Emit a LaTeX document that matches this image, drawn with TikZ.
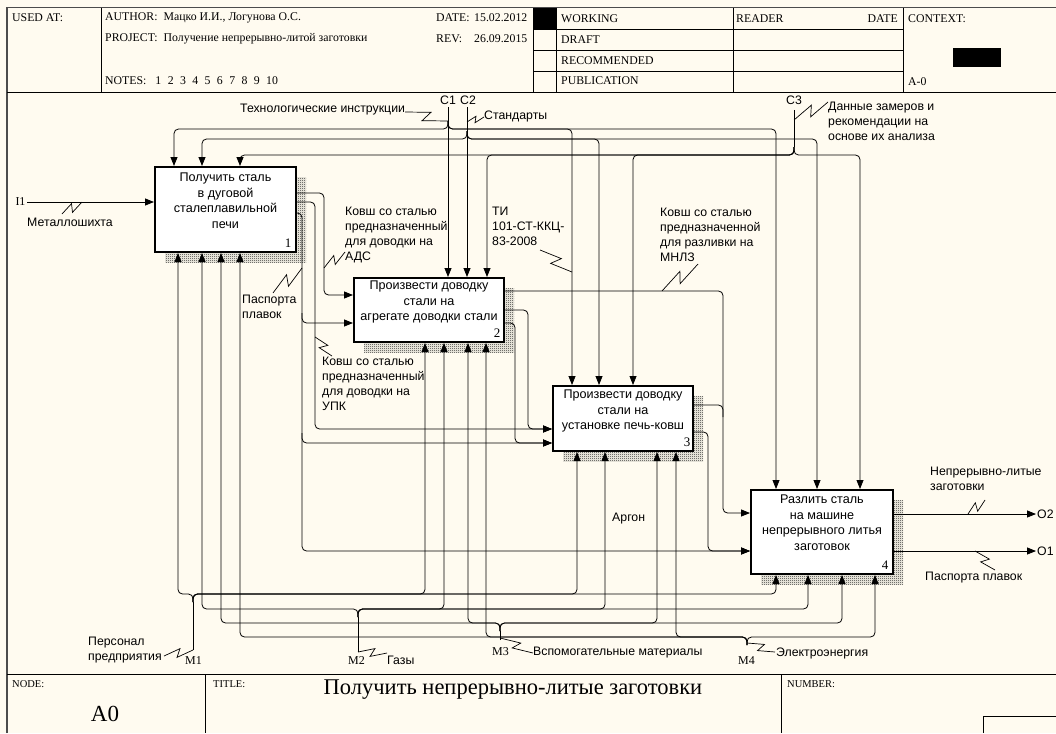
\documentclass[tikz,border=0pt]{standalone}
\usepackage{fontspec}
\setmainfont{Liberation Serif}
\newfontfamily\arfont{Liberation Sans}
\usetikzlibrary{arrows.meta,calc,patterns}
\definecolor{bgc}{RGB}{255,251,240}
\pgfdeclarepatternformonly{chk}{\pgfpointorigin}{\pgfqpoint{2pt}{2pt}}{\pgfqpoint{2pt}{2pt}}{%
  \pgfpathrectangle{\pgfpointorigin}{\pgfqpoint{1pt}{1pt}}%
  \pgfpathrectangle{\pgfqpoint{1pt}{1pt}}{\pgfqpoint{1pt}{1pt}}%
  \pgfusepath{fill}}
\newcommand\squig[3][4pt]{\draw[sqline] #2 -- ($#2!0.58!#3!#1!90:#3$) -- ($#2!0.42!#3!#1!-90:#3$) -- #3;}
\begin{document}
\begin{tikzpicture}[x=1pt,y=-1pt,
 ln/.style={line width=0.8pt,rounded corners=4.5pt},
 ar/.style={ln,-{Triangle[length=9pt,width=7pt]}},
 sqline/.style={line width=0.7pt},
 lab/.style={font=\arfont\fontsize{12.3}{15}\selectfont,inner sep=0pt,align=left},
 hd/.style={font=\fontsize{11.8}{13}\selectfont,inner sep=0pt,anchor=west},
 boxs/.style={draw,line width=1.8pt,fill=white,inner sep=0pt},
 btxt/.style={font=\arfont\fontsize{12.6}{15.5}\selectfont,align=center,inner sep=0pt,anchor=north},
 num/.style={font=\fontsize{13}{13}\selectfont,inner sep=0pt},
 ser/.style={font=\fontsize{12}{14}\selectfont,inner sep=0pt},
 shad/.style={pattern=chk,pattern color=black!85}]
\useasboundingbox (0,0) rectangle (1056,733);
\fill[bgc] (0,0) rectangle (1056,733);
% frame
\draw[line width=1.5pt,black!70] (7,733) -- (7,7.5) -- (1056,7.5);
% header
\draw[line width=0.8pt] (7,92) -- (1056,92);
\foreach \x in {101,533,556,733,903} \draw[line width=0.8pt] (\x,8) -- (\x,92);
\foreach \y in {29.5,50.5,71} \draw[line width=0.8pt] (533,\y) -- (903,\y);
\fill (533,8) rectangle (556,29.5);
\fill (953,48) rectangle (1001,67);
\node[hd] (usedat) at (12,18) {USED AT:};
\node[hd] (author) at (105,18) {AUTHOR:\hspace{6pt}Мацко И.И., Логунова О.С.};
\node[hd] (project) at (105,39) {PROJECT:\hspace{6pt}Получение непрерывно-литой заготовки};
\node[hd] (notes) at (105,81) {NOTES:\hspace{9pt}1\hspace{6.4pt}2\hspace{6.4pt}3\hspace{6.4pt}4\hspace{6.4pt}5\hspace{6.4pt}6\hspace{6.4pt}7\hspace{6.4pt}8\hspace{6.4pt}9\hspace{6.4pt}10};
\node[hd] (date) at (436,18) {DATE:};
\node[hd] (dateval) at (474,18) {15.02.2012};
\node[hd] (rev) at (436,39) {REV:};
\node[hd] (revval) at (474,39) {26.09.2015};
\node[hd] (working) at (561,19) {WORKING};
\node[hd] (draft) at (561,40) {DRAFT};
\node[hd] (recom) at (561,61) {RECOMMENDED};
\node[hd] (publ) at (561,81) {PUBLICATION};
\node[hd] (reader) at (736,19) {READER};
\node[hd,anchor=east] (rdate) at (898,19) {DATE};
\node[hd] (context) at (908,19) {CONTEXT:};
\node[hd] (ctxnode) at (908,82) {A-0};
% footer
\draw[line width=0.8pt] (7,674) -- (1056,674);
\draw[line width=0.8pt] (205,674) -- (205,733);
\draw[line width=0.8pt] (781,674) -- (781,733);
\draw[line width=0.8pt] (983,733) -- (983,716) -- (1056,716);
\node[hd,font=\fontsize{10.5}{12}\selectfont] (nodel) at (12,684) {NODE:};
\node[hd,font=\fontsize{10.5}{12}\selectfont] (titlel) at (213,684) {TITLE:};
\node[hd,font=\fontsize{10.5}{12}\selectfont] (numl) at (787,684) {NUMBER:};
\node[inner sep=0pt,font=\fontsize{22.5}{26}\selectfont] (title) at (513,690) {Получить непрерывно-литые заготовки};
\node[inner sep=0pt,font=\fontsize{23}{26}\selectfont] (a0) at (105,714) {A0};
% shadows and boxes
\fill[shad] (165,177) rectangle (306,262);
\fill[shad] (364,288) rectangle (514,352);
\fill[shad] (563,396) rectangle (703,461);
\fill[shad] (761,500) rectangle (903,584);
\node[boxs,minimum width=141pt,minimum height=85pt] (b1) at (225.5,209.5) {};
\node[boxs,minimum width=150pt,minimum height=64pt] (b2) at (429,310) {};
\node[boxs,minimum width=140pt,minimum height=65pt] (b3) at (623,418.5) {};
\node[boxs,minimum width=142pt,minimum height=84pt] (b4) at (822,532) {};
\node[btxt] (t1) at (225.5,173) {Получить сталь\\в дуговой\\сталеплавильной\\печи};
\node[btxt] (t2) at (429,281) {Произвести доводку\\стали на\\агрегате доводки стали};
\node[btxt] (t3) at (623,390) {Произвести доводку\\стали на\\установке печь-ковш};
\node[btxt] (t4) at (822,495) {Разлить сталь\\на машине\\непрерывного литья\\заготовок};
\node[num] (n1) at (288,243) {1};
\node[num] (n2) at (497,333) {2};
\node[num] (n3) at (687,442) {3};
\node[num] (n4) at (885,565) {4};
% controls
\draw[ar] (448,107) -- (448,277);
\draw[ar] (448,121) |- (174,129) -- (174,166);
\draw[ar] (448,121) |- (572,129) -- (572,385);
\draw[ar] (448,121) |- (776,129) -- (776,489);
\draw[ar] (467,107) -- (467,277);
\draw[ar] (467,131) |- (202,139) -- (202,166);
\draw[ar] (467,131) |- (599,139) -- (599,385);
\draw[ar] (467,131) |- (817,139) -- (817,489);
\draw[ln] (794,110) -- (794,147);
\draw[ar] (794,147) |- (240,155) -- (240,166);
\draw[ar] (794,147) |- (487,155) -- (487,277);
\draw[ar] (794,147) |- (633,155) -- (633,385);
\draw[ar] (794,147) |- (860,155) -- (860,489);
% input
\draw[ar] (27,202) -- (154,202);
% box 1 outputs
\draw[ar] (296,193) -| (324,295) -- (353,295);
\draw[ar] (296,202) -| (315,429) -- (552,429);
\draw[ar] (296,213) -| (302,551) -- (750,551);
\draw[ar] (302,313) |- (353,323);
\draw[ar] (302,433) |- (552,443);
% box 2 outputs
\draw[ar] (504,291) -| (723,513) -- (750,513);
\draw[ar] (504,310) -| (528,429) -- (552,429);
\draw[ar] (504,323) -| (515,443) -- (552,443);
% box 3 outputs
\draw[ln] (693,405) -| (723,417);
\draw[ar] (693,432) -| (708,551) -- (750,551);
% box 4 outputs
\draw[ar] (893,514) -- (1036,514);
\draw[ar] (893,551) -- (1036,551);
% mechanisms
\draw[ln] (193,650) -- (193,602);
\draw[ar] (193,602) |- (178,594) -- (178,253);
\draw[ar] (193,602) |- (425,594) -- (425,343);
\draw[ar] (193,602) |- (577,594) -- (577,452);
\draw[ar] (193,602) |- (776,594) -- (776,575);
\draw[ln] (358,652) -- (358,617);
\draw[ar] (358,617) |- (202,609) -- (202,253);
\draw[ar] (358,617) |- (444,609) -- (444,343);
\draw[ar] (358,617) |- (605,609) -- (605,452);
\draw[ar] (358,617) |- (808,609) -- (808,575);
\draw[ln] (500,640) -- (500,631);
\draw[ar] (500,631) |- (221,623) -- (221,253);
\draw[ar] (500,631) |- (468,623) -- (468,343);
\draw[ar] (500,631) |- (657,623) -- (657,452);
\draw[ar] (500,631) |- (842,623) -- (842,575);
\draw[ar] (747,645) |- (240,637) -- (240,253);
\draw[ar] (747,645) |- (486,637) -- (486,343);
\draw[ar] (747,645) |- (676,637) -- (676,452);
\draw[ar] (747,645) |- (875,637) -- (875,575);
% arrow labels
\node[lab] (lc1) at (448,100) {C1};
\node[lab] (lc2) at (468,100) {C2};
\node[lab] (lc3) at (794,100) {C3};
\node[lab,anchor=west] (lti) at (240,110) {Технологические инструкции};
\node[lab,anchor=west] (lst) at (484,116) {Стандарты};
\node[lab,anchor=north west] (ldz) at (828,102) {Данные замеров и\\рекомендации на\\основе их анализа};
\node[ser] (li1) at (20.5,202) {I1};
\node[lab,anchor=west] (lmet) at (27,222) {Металлошихта};
\node[lab,anchor=north west] (lads) at (345,207) {Ковш со сталью\\предназначенный\\для доводки на\\АДС};
\node[lab,anchor=north west] (lpp1) at (242,295) {Паспорта\\плавок};
\node[lab,anchor=north west] (lupk) at (322,357) {Ковш со сталью\\предназначенный\\для доводки на\\УПК};
\node[lab,anchor=north west] (lti2) at (492,207) {ТИ\\101-СТ-ККЦ-\\83-2008};
\node[lab,anchor=north west] (lmnlz) at (660,208) {Ковш со сталью\\предназначенной\\для разливки на\\МНЛЗ};
\node[lab,anchor=west] (larg) at (612,519) {Аргон};
\node[lab,anchor=north west] (lnlz) at (930,467) {Непрерывно-литые\\заготовки};
\node[lab,anchor=west] (lpp2) at (925,578) {Паспорта плавок};
\node[lab,anchor=north west] (lpers) at (88,637) {Персонал\\предприятия};
\node[lab,anchor=west] (lgaz) at (387,660) {Газы};
\node[lab,anchor=west] (lvsp) at (533,653) {Вспомогательные материалы};
\node[lab,anchor=west] (lel) at (776,653) {Электроэнергия};
\node[ser,anchor=west] (lm1) at (185,661) {M1};
\node[ser,anchor=west] (lm2) at (348,661) {M2};
\node[ser,anchor=west] (lm3) at (492,652) {M3};
\node[ser,anchor=west] (lm4) at (738,661) {M4};
\node[lab,anchor=west] (lo2) at (1037,514) {O2};
\node[lab,anchor=west] (lo1) at (1037,551) {O1};
% squiggles
\squig{(62,214)}{(82,202)}
\squig[5pt]{(405,112)}{(448,121)}
\squig[3pt]{(484,117)}{(467,122)}
\squig[5pt]{(828,102)}{(794,120)}
\squig{(345,252)}{(324,268)}
\squig[5pt]{(273,293)}{(302,268)}
\squig{(332,356)}{(315,337)}
\squig[5pt]{(540,250)}{(572,272)}
\squig[5pt]{(698,264)}{(662,291)}
\squig{(985,500)}{(968,514)}
\squig{(995,570)}{(975,551)}
\squig{(164,656)}{(193,650)}
\squig{(387,653)}{(358,652)}
\squig{(533,653)}{(500,638)}
\squig{(775,652)}{(747,643)}
\end{tikzpicture}
\end{document}
